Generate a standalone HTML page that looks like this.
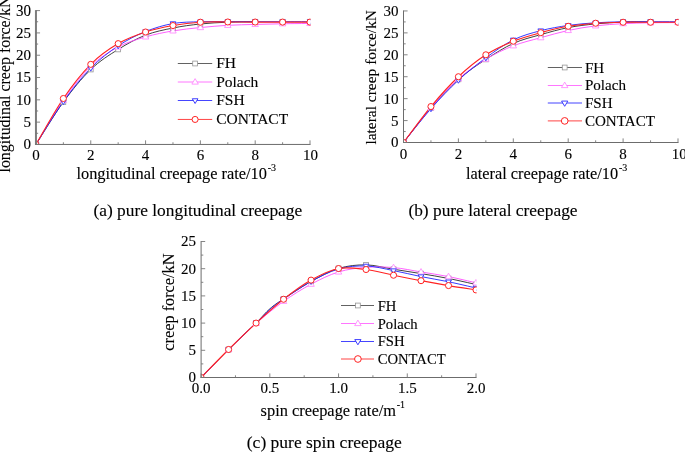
<!DOCTYPE html>
<html><head><meta charset="utf-8"><title>Creep force comparison</title>
<style>html,body{margin:0;padding:0;background:#fff}svg{display:block}text{font-family:"Liberation Serif",serif;fill:#000;stroke:#000;stroke-width:0.12px}</style>
</head><body>
<svg width="685" height="452" viewBox="0 0 685 452">
<rect width="685" height="452" fill="#fff"/>
<clipPath id="clipa"><rect x="35.95" y="0" width="274.65" height="144.45"/></clipPath>
<g clip-path="url(#clipa)" fill="none">
<path d="M35.95,144.45C40.52,137.39 54.22,114.56 63.36,102.06C72.49,89.57 81.62,78.27 90.76,69.49C99.90,60.72 109.03,55.14 118.17,49.42C127.30,43.69 136.44,38.71 145.57,35.14C154.70,31.57 163.84,29.86 172.98,28.00C182.11,26.14 191.25,24.95 200.38,23.98C209.51,23.02 218.65,22.57 227.79,22.20C236.92,21.83 250.62,21.83 255.19,21.75" stroke="#2a2a2a" stroke-width="0.9"/>
<path d="M35.95,144.45C40.52,137.09 54.22,113.29 63.36,100.28C72.49,87.27 81.62,75.26 90.76,66.37C99.90,57.48 109.03,51.87 118.17,46.96C127.30,42.05 136.44,39.60 145.57,36.92C154.70,34.25 163.84,32.46 172.98,30.90C182.11,29.34 191.25,28.48 200.38,27.55C209.51,26.62 218.65,25.84 227.79,25.32C236.92,24.80 246.06,24.69 255.19,24.43C264.32,24.17 273.46,23.92 282.60,23.76C291.73,23.60 305.43,23.50 310.00,23.45" stroke="#ff4dff" stroke-width="0.9"/>
<path d="M35.95,144.45C40.52,137.31 54.22,114.33 63.36,101.62C72.49,88.90 81.62,77.45 90.76,68.15C99.90,58.86 109.03,51.94 118.17,45.85C127.30,39.75 136.44,35.29 145.57,31.57C154.70,27.85 163.84,25.17 172.98,23.54C182.11,21.90 191.25,22.07 200.38,21.75C209.51,21.44 218.65,21.68 227.79,21.66C236.92,21.65 246.06,21.66 255.19,21.66C264.32,21.66 273.46,21.66 282.60,21.66C291.73,21.66 305.43,21.66 310.00,21.66" stroke="#2222ff" stroke-width="0.9"/>
<path d="M35.95,144.45C40.52,136.79 54.22,111.84 63.36,98.49C72.49,85.15 81.62,73.51 90.76,64.36C99.90,55.22 109.03,49.01 118.17,43.62C127.30,38.22 136.44,35.03 145.57,32.02C154.70,29.00 163.84,27.18 172.98,25.55C182.11,23.91 191.25,22.79 200.38,22.20C209.51,21.60 218.65,22.00 227.79,21.98C236.92,21.95 246.06,22.04 255.19,22.07C264.32,22.09 273.46,22.10 282.60,22.11C291.73,22.12 305.43,22.11 310.00,22.11" stroke="#ff2222" stroke-width="1.15"/>
<rect x="33.55" y="142.05" width="4.80" height="4.80" fill="#fff" stroke="#969696" stroke-width="0.8"/>
<rect x="60.96" y="99.66" width="4.80" height="4.80" fill="#fff" stroke="#969696" stroke-width="0.8"/>
<rect x="88.36" y="67.09" width="4.80" height="4.80" fill="#fff" stroke="#969696" stroke-width="0.8"/>
<rect x="115.77" y="47.02" width="4.80" height="4.80" fill="#fff" stroke="#969696" stroke-width="0.8"/>
<rect x="143.17" y="32.74" width="4.80" height="4.80" fill="#fff" stroke="#969696" stroke-width="0.8"/>
<rect x="170.58" y="25.60" width="4.80" height="4.80" fill="#fff" stroke="#969696" stroke-width="0.8"/>
<rect x="197.98" y="21.58" width="4.80" height="4.80" fill="#fff" stroke="#969696" stroke-width="0.8"/>
<rect x="225.39" y="19.80" width="4.80" height="4.80" fill="#fff" stroke="#969696" stroke-width="0.8"/>
<rect x="252.79" y="19.35" width="4.80" height="4.80" fill="#fff" stroke="#969696" stroke-width="0.8"/>
<rect x="280.20" y="19.35" width="4.80" height="4.80" fill="#fff" stroke="#969696" stroke-width="0.8"/>
<rect x="307.60" y="19.35" width="4.80" height="4.80" fill="#fff" stroke="#969696" stroke-width="0.8"/>
<path d="M35.95,141.05L39.18,146.56L32.72,146.56Z" fill="#fff" stroke="#ff80ff" stroke-width="0.8"/>
<path d="M63.36,96.88L66.59,102.39L60.13,102.39Z" fill="#fff" stroke="#ff80ff" stroke-width="0.8"/>
<path d="M90.76,62.97L93.99,68.48L87.53,68.48Z" fill="#fff" stroke="#ff80ff" stroke-width="0.8"/>
<path d="M118.17,43.56L121.40,49.07L114.94,49.07Z" fill="#fff" stroke="#ff80ff" stroke-width="0.8"/>
<path d="M145.57,33.52L148.80,39.03L142.34,39.03Z" fill="#fff" stroke="#ff80ff" stroke-width="0.8"/>
<path d="M172.98,27.50L176.21,33.01L169.75,33.01Z" fill="#fff" stroke="#ff80ff" stroke-width="0.8"/>
<path d="M200.38,24.15L203.61,29.66L197.15,29.66Z" fill="#fff" stroke="#ff80ff" stroke-width="0.8"/>
<path d="M227.79,21.92L231.02,27.43L224.56,27.43Z" fill="#fff" stroke="#ff80ff" stroke-width="0.8"/>
<path d="M255.19,21.03L258.42,26.54L251.96,26.54Z" fill="#fff" stroke="#ff80ff" stroke-width="0.8"/>
<path d="M282.60,20.36L285.83,25.87L279.37,25.87Z" fill="#fff" stroke="#ff80ff" stroke-width="0.8"/>
<path d="M310.00,20.05L313.23,25.56L306.77,25.56Z" fill="#fff" stroke="#ff80ff" stroke-width="0.8"/>
<path d="M35.95,147.45L38.80,142.71L33.10,142.71Z" fill="#fff" stroke="#3535ff" stroke-width="0.95"/>
<path d="M63.36,104.62L66.20,99.88L60.51,99.88Z" fill="#fff" stroke="#3535ff" stroke-width="0.95"/>
<path d="M90.76,71.15L93.61,66.41L87.91,66.41Z" fill="#fff" stroke="#3535ff" stroke-width="0.95"/>
<path d="M118.17,48.85L121.02,44.11L115.32,44.11Z" fill="#fff" stroke="#3535ff" stroke-width="0.95"/>
<path d="M145.57,34.57L148.42,29.83L142.72,29.83Z" fill="#fff" stroke="#3535ff" stroke-width="0.95"/>
<path d="M172.98,26.54L175.83,21.80L170.13,21.80Z" fill="#fff" stroke="#3535ff" stroke-width="0.95"/>
<path d="M200.38,24.75L203.23,20.01L197.53,20.01Z" fill="#fff" stroke="#3535ff" stroke-width="0.95"/>
<path d="M227.79,24.66L230.64,19.92L224.94,19.92Z" fill="#fff" stroke="#3535ff" stroke-width="0.95"/>
<path d="M255.19,24.66L258.04,19.92L252.34,19.92Z" fill="#fff" stroke="#3535ff" stroke-width="0.95"/>
<path d="M282.60,24.66L285.45,19.92L279.75,19.92Z" fill="#fff" stroke="#3535ff" stroke-width="0.95"/>
<path d="M310.00,24.66L312.85,19.92L307.15,19.92Z" fill="#fff" stroke="#3535ff" stroke-width="0.95"/>
<circle cx="35.95" cy="144.45" r="3.05" fill="#fff" stroke="#ff2222" stroke-width="1.0"/>
<circle cx="63.36" cy="98.49" r="3.05" fill="#fff" stroke="#ff2222" stroke-width="1.0"/>
<circle cx="90.76" cy="64.36" r="3.05" fill="#fff" stroke="#ff2222" stroke-width="1.0"/>
<circle cx="118.17" cy="43.62" r="3.05" fill="#fff" stroke="#ff2222" stroke-width="1.0"/>
<circle cx="145.57" cy="32.02" r="3.05" fill="#fff" stroke="#ff2222" stroke-width="1.0"/>
<circle cx="172.98" cy="25.55" r="3.05" fill="#fff" stroke="#ff2222" stroke-width="1.0"/>
<circle cx="200.38" cy="22.20" r="3.05" fill="#fff" stroke="#ff2222" stroke-width="1.0"/>
<circle cx="227.79" cy="21.98" r="3.05" fill="#fff" stroke="#ff2222" stroke-width="1.0"/>
<circle cx="255.19" cy="22.07" r="3.05" fill="#fff" stroke="#ff2222" stroke-width="1.0"/>
<circle cx="282.60" cy="22.11" r="3.05" fill="#fff" stroke="#ff2222" stroke-width="1.0"/>
<circle cx="310.00" cy="22.11" r="3.05" fill="#fff" stroke="#ff2222" stroke-width="1.0"/>
</g>
<path d="M35.95,10.10V144.95" stroke="#7c7c7c" stroke-width="2" fill="none"/>
<path d="M35.45,144.45H310.50" stroke="#6c6c6c" stroke-width="1" fill="none"/>
<path d="M35.95,144.45h4.1M35.95,122.14h4.1M35.95,99.83h4.1M35.95,77.52h4.1M35.95,55.22h4.1M35.95,32.91h4.1M35.95,10.60h4.1M35.95,133.30h2.2M35.95,110.99h2.2M35.95,88.68h2.2M35.95,66.37h2.2M35.95,44.06h2.2M35.95,21.75h2.2M35.95,144.45v-4.1M90.76,144.45v-4.1M145.57,144.45v-4.1M200.38,144.45v-4.1M255.19,144.45v-4.1M310.00,144.45v-4.1M63.36,144.45v-2.2M118.17,144.45v-2.2M172.98,144.45v-2.2M227.79,144.45v-2.2M282.60,144.45v-2.2" stroke="#777" stroke-width="0.9" fill="none"/>
<text x="30.95" y="149.40" font-size="15" text-anchor="end">0</text>
<text x="30.95" y="127.09" font-size="15" text-anchor="end">5</text>
<text x="30.95" y="104.78" font-size="15" text-anchor="end">10</text>
<text x="30.95" y="82.47" font-size="15" text-anchor="end">15</text>
<text x="30.95" y="60.17" font-size="15" text-anchor="end">20</text>
<text x="30.95" y="37.86" font-size="15" text-anchor="end">25</text>
<text transform="translate(30.95,15.55) scale(1,1.13)" font-size="15" text-anchor="end">30</text>
<text x="35.95" y="160.00" font-size="15" text-anchor="middle">0</text>
<text x="90.76" y="160.00" font-size="15" text-anchor="middle">2</text>
<text x="145.57" y="160.00" font-size="15" text-anchor="middle">4</text>
<text x="200.38" y="160.00" font-size="15" text-anchor="middle">6</text>
<text x="255.19" y="160.00" font-size="15" text-anchor="middle">8</text>
<text x="310.40" y="160.00" font-size="15" text-anchor="middle">10</text>
<text x="76.50" y="179.00" font-size="16.33">longitudinal creepage rate/10<tspan font-size="9.96" dx="0.8" dy="-8.2">-3</tspan></text>
<text transform="translate(9.90,-3.60) rotate(-90)" font-size="15.95" text-anchor="end">longitudinal creep force/kN</text>
<path d="M177.80,63.50H212.20" stroke="#505050" stroke-width="0.9"/>
<rect x="192.70" y="61.10" width="4.80" height="4.80" fill="#fff" stroke="#969696" stroke-width="0.8"/>
<text x="216.20" y="68.21" font-size="15.5">FH</text>
<path d="M177.80,82.00H212.20" stroke="#ff66ff" stroke-width="0.9"/>
<path d="M195.10,78.60L198.33,84.11L191.87,84.11Z" fill="#fff" stroke="#ff80ff" stroke-width="0.8"/>
<text x="216.20" y="86.71" font-size="15.5">Polach</text>
<path d="M177.80,100.50H212.20" stroke="#3030ff" stroke-width="0.9"/>
<path d="M195.10,103.50L197.95,98.76L192.25,98.76Z" fill="#fff" stroke="#3535ff" stroke-width="0.95"/>
<text x="216.20" y="105.21" font-size="15.5">FSH</text>
<path d="M177.80,119.45H212.20" stroke="#ff3030" stroke-width="0.9"/>
<circle cx="195.10" cy="119.45" r="3.05" fill="#fff" stroke="#ff2222" stroke-width="1.0"/>
<text x="216.20" y="124.16" font-size="15.5">CONTACT</text>
<clipPath id="clipb"><rect x="403.50" y="0" width="275.10" height="142.50"/></clipPath>
<g clip-path="url(#clipb)" fill="none">
<path d="M403.50,142.50C408.07,136.73 421.80,118.38 430.95,107.86C440.10,97.33 449.25,87.43 458.40,79.36C467.55,71.28 476.70,65.40 485.85,59.40C495.00,53.41 504.15,47.53 513.30,43.40C522.45,39.27 531.60,37.26 540.75,34.63C549.90,32.00 559.05,29.40 568.20,27.61C577.35,25.82 586.50,24.80 595.65,23.89C604.80,22.97 613.95,22.46 623.10,22.13C632.25,21.80 645.97,21.95 650.55,21.91" stroke="#2a2a2a" stroke-width="0.9"/>
<path d="M403.50,142.50C408.07,136.73 421.80,118.46 430.95,107.86C440.10,97.26 449.25,87.03 458.40,78.92C467.55,70.81 476.70,64.70 485.85,59.19C495.00,53.67 504.15,49.39 513.30,45.81C522.45,42.23 531.60,40.26 540.75,37.70C549.90,35.14 559.05,32.44 568.20,30.46C577.35,28.49 586.50,26.99 595.65,25.86C604.80,24.73 613.95,24.18 623.10,23.67C632.25,23.15 641.40,22.97 650.55,22.79C659.70,22.61 673.42,22.61 678.00,22.57" stroke="#ff4dff" stroke-width="0.9"/>
<path d="M403.50,142.50C408.07,136.87 421.80,119.11 430.95,108.74C440.10,98.36 449.25,88.71 458.40,80.23C467.55,71.76 476.70,64.59 485.85,57.87C495.00,51.15 504.15,44.42 513.30,39.89C522.45,35.36 531.60,33.09 540.75,30.68C549.90,28.27 559.05,26.74 568.20,25.42C577.35,24.11 586.50,23.40 595.65,22.79C604.80,22.18 613.95,21.96 623.10,21.78C632.25,21.60 641.40,21.71 650.55,21.69C659.70,21.68 673.42,21.69 678.00,21.69" stroke="#2222ff" stroke-width="0.9"/>
<path d="M403.50,142.50C408.07,136.51 421.80,117.51 430.95,106.54C440.10,95.58 449.25,85.35 458.40,76.73C467.55,68.10 476.70,60.72 485.85,54.80C495.00,48.88 504.15,44.90 513.30,41.21C522.45,37.52 531.60,35.14 540.75,32.66C549.90,30.17 559.05,27.87 568.20,26.30C577.35,24.73 586.50,23.90 595.65,23.23C604.80,22.56 613.95,22.42 623.10,22.26C632.25,22.10 641.40,22.26 650.55,22.26C659.70,22.26 673.42,22.26 678.00,22.26" stroke="#ff2222" stroke-width="1.15"/>
<rect x="401.10" y="140.10" width="4.80" height="4.80" fill="#fff" stroke="#969696" stroke-width="0.8"/>
<rect x="428.55" y="105.46" width="4.80" height="4.80" fill="#fff" stroke="#969696" stroke-width="0.8"/>
<rect x="456.00" y="76.96" width="4.80" height="4.80" fill="#fff" stroke="#969696" stroke-width="0.8"/>
<rect x="483.45" y="57.00" width="4.80" height="4.80" fill="#fff" stroke="#969696" stroke-width="0.8"/>
<rect x="510.90" y="41.00" width="4.80" height="4.80" fill="#fff" stroke="#969696" stroke-width="0.8"/>
<rect x="538.35" y="32.23" width="4.80" height="4.80" fill="#fff" stroke="#969696" stroke-width="0.8"/>
<rect x="565.80" y="25.21" width="4.80" height="4.80" fill="#fff" stroke="#969696" stroke-width="0.8"/>
<rect x="593.25" y="21.49" width="4.80" height="4.80" fill="#fff" stroke="#969696" stroke-width="0.8"/>
<rect x="620.70" y="19.73" width="4.80" height="4.80" fill="#fff" stroke="#969696" stroke-width="0.8"/>
<rect x="648.15" y="19.51" width="4.80" height="4.80" fill="#fff" stroke="#969696" stroke-width="0.8"/>
<rect x="675.60" y="19.51" width="4.80" height="4.80" fill="#fff" stroke="#969696" stroke-width="0.8"/>
<path d="M403.50,139.10L406.73,144.61L400.27,144.61Z" fill="#fff" stroke="#ff80ff" stroke-width="0.8"/>
<path d="M430.95,104.46L434.18,109.97L427.72,109.97Z" fill="#fff" stroke="#ff80ff" stroke-width="0.8"/>
<path d="M458.40,75.52L461.63,81.03L455.17,81.03Z" fill="#fff" stroke="#ff80ff" stroke-width="0.8"/>
<path d="M485.85,55.79L489.08,61.29L482.62,61.29Z" fill="#fff" stroke="#ff80ff" stroke-width="0.8"/>
<path d="M513.30,42.41L516.53,47.92L510.07,47.92Z" fill="#fff" stroke="#ff80ff" stroke-width="0.8"/>
<path d="M540.75,34.30L543.98,39.81L537.52,39.81Z" fill="#fff" stroke="#ff80ff" stroke-width="0.8"/>
<path d="M568.20,27.06L571.43,32.57L564.97,32.57Z" fill="#fff" stroke="#ff80ff" stroke-width="0.8"/>
<path d="M595.65,22.46L598.88,27.97L592.42,27.97Z" fill="#fff" stroke="#ff80ff" stroke-width="0.8"/>
<path d="M623.10,20.27L626.33,25.77L619.87,25.77Z" fill="#fff" stroke="#ff80ff" stroke-width="0.8"/>
<path d="M650.55,19.39L653.78,24.90L647.32,24.90Z" fill="#fff" stroke="#ff80ff" stroke-width="0.8"/>
<path d="M678.00,19.17L681.23,24.68L674.77,24.68Z" fill="#fff" stroke="#ff80ff" stroke-width="0.8"/>
<path d="M403.50,145.50L406.35,140.76L400.65,140.76Z" fill="#fff" stroke="#3535ff" stroke-width="0.95"/>
<path d="M430.95,111.74L433.80,107.00L428.10,107.00Z" fill="#fff" stroke="#3535ff" stroke-width="0.95"/>
<path d="M458.40,83.23L461.25,78.49L455.55,78.49Z" fill="#fff" stroke="#3535ff" stroke-width="0.95"/>
<path d="M485.85,60.87L488.70,56.13L483.00,56.13Z" fill="#fff" stroke="#3535ff" stroke-width="0.95"/>
<path d="M513.30,42.89L516.15,38.15L510.45,38.15Z" fill="#fff" stroke="#3535ff" stroke-width="0.95"/>
<path d="M540.75,33.68L543.60,28.94L537.90,28.94Z" fill="#fff" stroke="#3535ff" stroke-width="0.95"/>
<path d="M568.20,28.42L571.05,23.68L565.35,23.68Z" fill="#fff" stroke="#3535ff" stroke-width="0.95"/>
<path d="M595.65,25.79L598.50,21.05L592.80,21.05Z" fill="#fff" stroke="#3535ff" stroke-width="0.95"/>
<path d="M623.10,24.78L625.95,20.04L620.25,20.04Z" fill="#fff" stroke="#3535ff" stroke-width="0.95"/>
<path d="M650.55,24.69L653.40,19.95L647.70,19.95Z" fill="#fff" stroke="#3535ff" stroke-width="0.95"/>
<path d="M678.00,24.69L680.85,19.95L675.15,19.95Z" fill="#fff" stroke="#3535ff" stroke-width="0.95"/>
<circle cx="403.50" cy="142.50" r="3.05" fill="#fff" stroke="#ff2222" stroke-width="1.0"/>
<circle cx="430.95" cy="106.54" r="3.05" fill="#fff" stroke="#ff2222" stroke-width="1.0"/>
<circle cx="458.40" cy="76.73" r="3.05" fill="#fff" stroke="#ff2222" stroke-width="1.0"/>
<circle cx="485.85" cy="54.80" r="3.05" fill="#fff" stroke="#ff2222" stroke-width="1.0"/>
<circle cx="513.30" cy="41.21" r="3.05" fill="#fff" stroke="#ff2222" stroke-width="1.0"/>
<circle cx="540.75" cy="32.66" r="3.05" fill="#fff" stroke="#ff2222" stroke-width="1.0"/>
<circle cx="568.20" cy="26.30" r="3.05" fill="#fff" stroke="#ff2222" stroke-width="1.0"/>
<circle cx="595.65" cy="23.23" r="3.05" fill="#fff" stroke="#ff2222" stroke-width="1.0"/>
<circle cx="623.10" cy="22.26" r="3.05" fill="#fff" stroke="#ff2222" stroke-width="1.0"/>
<circle cx="650.55" cy="22.26" r="3.05" fill="#fff" stroke="#ff2222" stroke-width="1.0"/>
<circle cx="678.00" cy="22.26" r="3.05" fill="#fff" stroke="#ff2222" stroke-width="1.0"/>
</g>
<path d="M403.50,10.45V143.00" stroke="#6c6c6c" stroke-width="1" fill="none"/>
<path d="M403.00,142.50H678.50" stroke="#6c6c6c" stroke-width="1" fill="none"/>
<path d="M403.50,142.50h4.1M403.50,120.58h4.1M403.50,98.65h4.1M403.50,76.73h4.1M403.50,54.80h4.1M403.50,32.88h4.1M403.50,10.95h4.1M403.50,131.54h2.2M403.50,109.61h2.2M403.50,87.69h2.2M403.50,65.76h2.2M403.50,43.84h2.2M403.50,21.91h2.2M403.50,142.50v-4.1M458.40,142.50v-4.1M513.30,142.50v-4.1M568.20,142.50v-4.1M623.10,142.50v-4.1M678.00,142.50v-4.1M430.95,142.50v-2.2M485.85,142.50v-2.2M540.75,142.50v-2.2M595.65,142.50v-2.2M650.55,142.50v-2.2" stroke="#777" stroke-width="0.9" fill="none"/>
<text x="398.50" y="147.45" font-size="15" text-anchor="end">0</text>
<text x="398.50" y="125.53" font-size="15" text-anchor="end">5</text>
<text x="398.50" y="103.60" font-size="15" text-anchor="end">10</text>
<text x="398.50" y="81.68" font-size="15" text-anchor="end">15</text>
<text x="398.50" y="59.75" font-size="15" text-anchor="end">20</text>
<text x="398.50" y="37.83" font-size="15" text-anchor="end">25</text>
<text x="398.50" y="15.90" font-size="15" text-anchor="end">30</text>
<text x="403.50" y="158.60" font-size="15" text-anchor="middle">0</text>
<text x="458.40" y="158.60" font-size="15" text-anchor="middle">2</text>
<text x="513.30" y="158.60" font-size="15" text-anchor="middle">4</text>
<text x="568.20" y="158.60" font-size="15" text-anchor="middle">6</text>
<text x="623.10" y="158.60" font-size="15" text-anchor="middle">8</text>
<text x="679.30" y="158.60" font-size="15" text-anchor="middle">10</text>
<text x="466.00" y="178.60" font-size="16.32">lateral creepage rate/10<tspan font-size="9.96" dx="0.8" dy="-7.3">-3</tspan></text>
<text transform="translate(375.50,10.00) rotate(-90)" font-size="15.45" text-anchor="end">lateral creep force/kN</text>
<path d="M547.80,67.50H582.00" stroke="#505050" stroke-width="0.9"/>
<rect x="562.30" y="65.10" width="4.80" height="4.80" fill="#fff" stroke="#969696" stroke-width="0.8"/>
<text x="584.90" y="72.88" font-size="15.1">FH</text>
<path d="M547.80,85.50H582.00" stroke="#ff66ff" stroke-width="0.9"/>
<path d="M564.70,82.10L567.93,87.61L561.47,87.61Z" fill="#fff" stroke="#ff80ff" stroke-width="0.8"/>
<text x="584.90" y="90.48" font-size="15.1">Polach</text>
<path d="M547.80,103.00H582.00" stroke="#3030ff" stroke-width="0.9"/>
<path d="M564.70,106.30L567.84,101.09L561.57,101.09Z" fill="#fff" stroke="#3535ff" stroke-width="0.95"/>
<text x="584.90" y="108.18" font-size="15.1">FSH</text>
<path d="M547.80,120.90H582.00" stroke="#ff3030" stroke-width="0.9"/>
<circle cx="564.70" cy="120.90" r="3.35" fill="#fff" stroke="#ff2222" stroke-width="1.0"/>
<text x="584.90" y="125.98" font-size="15.1">CONTACT</text>
<clipPath id="clipc"><rect x="201.10" y="0" width="275.50" height="377.50"/></clipPath>
<g clip-path="url(#clipc)" fill="none">
<path d="M201.10,377.50C205.68,372.83 219.43,358.59 228.59,349.48C237.75,340.38 249.21,329.66 256.08,322.88C262.95,316.11 265.24,312.85 269.82,308.85C274.41,304.85 276.70,303.45 283.57,298.89C290.44,294.33 301.90,286.56 311.06,281.48C320.22,276.41 329.39,271.19 338.55,268.43C347.71,265.66 356.88,264.76 366.04,264.89C375.20,265.03 384.37,267.79 393.53,269.24C402.69,270.69 411.86,272.05 421.02,273.60C430.18,275.14 439.35,276.68 448.51,278.49C457.67,280.31 471.42,283.48 476.00,284.48" stroke="#2a2a2a" stroke-width="0.9"/>
<path d="M201.10,377.50C205.68,372.85 219.43,358.61 228.59,349.59C237.75,340.57 246.92,331.41 256.08,323.37C265.24,315.33 274.41,307.87 283.57,301.34C292.73,294.81 301.90,289.10 311.06,284.20C320.22,279.31 329.39,274.77 338.55,271.96C347.71,269.15 356.88,268.07 366.04,267.34C375.20,266.61 384.37,266.84 393.53,267.61C402.69,268.38 411.86,270.47 421.02,271.96C430.18,273.46 439.35,274.77 448.51,276.59C457.67,278.40 471.42,281.80 476.00,282.84" stroke="#ff4dff" stroke-width="0.9"/>
<path d="M201.10,377.50C205.68,372.83 219.43,358.57 228.59,349.48C237.75,340.40 249.21,329.67 256.08,322.99C262.95,316.31 265.24,313.38 269.82,309.39C274.41,305.40 276.70,303.71 283.57,299.06C290.44,294.40 301.90,286.50 311.06,281.48C320.22,276.47 329.39,271.56 338.55,268.97C347.71,266.39 356.88,265.71 366.04,265.98C375.20,266.25 384.37,268.84 393.53,270.60C402.69,272.37 411.86,274.73 421.02,276.59C430.18,278.45 439.35,279.85 448.51,281.76C457.67,283.66 471.42,286.97 476.00,288.01" stroke="#2222ff" stroke-width="0.9"/>
<path d="M201.10,377.50C205.68,372.83 219.43,358.55 228.59,349.48C237.75,340.42 246.92,331.47 256.08,323.10C265.24,314.73 274.41,306.44 283.57,299.27C292.73,292.11 301.90,285.25 311.06,280.12C320.22,275.00 329.39,270.30 338.55,268.54C347.71,266.77 356.88,268.40 366.04,269.52C375.20,270.63 384.37,273.37 393.53,275.23C402.69,277.09 411.86,278.95 421.02,280.67C430.18,282.39 439.35,284.02 448.51,285.56C457.67,287.11 471.42,289.19 476.00,289.92" stroke="#ff2222" stroke-width="1.15"/>
<rect x="198.70" y="375.10" width="4.80" height="4.80" fill="#fff" stroke="#969696" stroke-width="0.8"/>
<rect x="226.19" y="347.08" width="4.80" height="4.80" fill="#fff" stroke="#969696" stroke-width="0.8"/>
<rect x="253.68" y="320.48" width="4.80" height="4.80" fill="#fff" stroke="#969696" stroke-width="0.8"/>
<rect x="281.17" y="296.49" width="4.80" height="4.80" fill="#fff" stroke="#969696" stroke-width="0.8"/>
<rect x="308.66" y="279.08" width="4.80" height="4.80" fill="#fff" stroke="#969696" stroke-width="0.8"/>
<rect x="336.15" y="266.03" width="4.80" height="4.80" fill="#fff" stroke="#969696" stroke-width="0.8"/>
<rect x="363.64" y="262.49" width="4.80" height="4.80" fill="#fff" stroke="#969696" stroke-width="0.8"/>
<rect x="391.13" y="266.84" width="4.80" height="4.80" fill="#fff" stroke="#969696" stroke-width="0.8"/>
<rect x="418.62" y="271.20" width="4.80" height="4.80" fill="#fff" stroke="#969696" stroke-width="0.8"/>
<rect x="446.11" y="276.09" width="4.80" height="4.80" fill="#fff" stroke="#969696" stroke-width="0.8"/>
<rect x="473.60" y="282.08" width="4.80" height="4.80" fill="#fff" stroke="#969696" stroke-width="0.8"/>
<path d="M201.10,374.10L204.33,379.61L197.87,379.61Z" fill="#fff" stroke="#ff80ff" stroke-width="0.8"/>
<path d="M228.59,346.19L231.82,351.70L225.36,351.70Z" fill="#fff" stroke="#ff80ff" stroke-width="0.8"/>
<path d="M256.08,319.97L259.31,325.48L252.85,325.48Z" fill="#fff" stroke="#ff80ff" stroke-width="0.8"/>
<path d="M283.57,297.94L286.80,303.45L280.34,303.45Z" fill="#fff" stroke="#ff80ff" stroke-width="0.8"/>
<path d="M311.06,280.80L314.29,286.31L307.83,286.31Z" fill="#fff" stroke="#ff80ff" stroke-width="0.8"/>
<path d="M338.55,268.56L341.78,274.07L335.32,274.07Z" fill="#fff" stroke="#ff80ff" stroke-width="0.8"/>
<path d="M366.04,263.94L369.27,269.45L362.81,269.45Z" fill="#fff" stroke="#ff80ff" stroke-width="0.8"/>
<path d="M393.53,264.21L396.76,269.72L390.30,269.72Z" fill="#fff" stroke="#ff80ff" stroke-width="0.8"/>
<path d="M421.02,268.56L424.25,274.07L417.79,274.07Z" fill="#fff" stroke="#ff80ff" stroke-width="0.8"/>
<path d="M448.51,273.19L451.74,278.70L445.28,278.70Z" fill="#fff" stroke="#ff80ff" stroke-width="0.8"/>
<path d="M476.00,279.44L479.23,284.95L472.77,284.95Z" fill="#fff" stroke="#ff80ff" stroke-width="0.8"/>
<path d="M201.10,380.50L203.95,375.76L198.25,375.76Z" fill="#fff" stroke="#3535ff" stroke-width="0.95"/>
<path d="M228.59,352.48L231.44,347.74L225.74,347.74Z" fill="#fff" stroke="#3535ff" stroke-width="0.95"/>
<path d="M256.08,325.99L258.93,321.25L253.23,321.25Z" fill="#fff" stroke="#3535ff" stroke-width="0.95"/>
<path d="M283.57,302.06L286.42,297.32L280.72,297.32Z" fill="#fff" stroke="#3535ff" stroke-width="0.95"/>
<path d="M311.06,284.48L313.91,279.74L308.21,279.74Z" fill="#fff" stroke="#3535ff" stroke-width="0.95"/>
<path d="M338.55,271.97L341.40,267.23L335.70,267.23Z" fill="#fff" stroke="#3535ff" stroke-width="0.95"/>
<path d="M366.04,268.98L368.89,264.24L363.19,264.24Z" fill="#fff" stroke="#3535ff" stroke-width="0.95"/>
<path d="M393.53,273.60L396.38,268.86L390.68,268.86Z" fill="#fff" stroke="#3535ff" stroke-width="0.95"/>
<path d="M421.02,279.59L423.87,274.85L418.17,274.85Z" fill="#fff" stroke="#3535ff" stroke-width="0.95"/>
<path d="M448.51,284.76L451.36,280.02L445.66,280.02Z" fill="#fff" stroke="#3535ff" stroke-width="0.95"/>
<path d="M476.00,291.01L478.85,286.27L473.15,286.27Z" fill="#fff" stroke="#3535ff" stroke-width="0.95"/>
<circle cx="201.10" cy="377.50" r="3.05" fill="#fff" stroke="#ff2222" stroke-width="1.0"/>
<circle cx="228.59" cy="349.48" r="3.05" fill="#fff" stroke="#ff2222" stroke-width="1.0"/>
<circle cx="256.08" cy="323.10" r="3.05" fill="#fff" stroke="#ff2222" stroke-width="1.0"/>
<circle cx="283.57" cy="299.27" r="3.05" fill="#fff" stroke="#ff2222" stroke-width="1.0"/>
<circle cx="311.06" cy="280.12" r="3.05" fill="#fff" stroke="#ff2222" stroke-width="1.0"/>
<circle cx="338.55" cy="268.54" r="3.05" fill="#fff" stroke="#ff2222" stroke-width="1.0"/>
<circle cx="366.04" cy="269.52" r="3.05" fill="#fff" stroke="#ff2222" stroke-width="1.0"/>
<circle cx="393.53" cy="275.23" r="3.05" fill="#fff" stroke="#ff2222" stroke-width="1.0"/>
<circle cx="421.02" cy="280.67" r="3.05" fill="#fff" stroke="#ff2222" stroke-width="1.0"/>
<circle cx="448.51" cy="285.56" r="3.05" fill="#fff" stroke="#ff2222" stroke-width="1.0"/>
<circle cx="476.00" cy="289.92" r="3.05" fill="#fff" stroke="#ff2222" stroke-width="1.0"/>
</g>
<path d="M201.10,241.00V378.00" stroke="#6c6c6c" stroke-width="1" fill="none"/>
<path d="M200.60,377.50H476.50" stroke="#6c6c6c" stroke-width="1" fill="none"/>
<path d="M201.10,377.50h4.1M201.10,350.30h4.1M201.10,323.10h4.1M201.10,295.90h4.1M201.10,268.70h4.1M201.10,241.50h4.1M201.10,363.90h2.2M201.10,336.70h2.2M201.10,309.50h2.2M201.10,282.30h2.2M201.10,255.10h2.2M201.10,377.50v-4.1M269.82,377.50v-4.1M338.55,377.50v-4.1M407.27,377.50v-4.1M476.00,377.50v-4.1M235.46,377.50v-2.2M304.19,377.50v-2.2M372.91,377.50v-2.2M441.64,377.50v-2.2" stroke="#777" stroke-width="0.9" fill="none"/>
<text x="196.10" y="382.45" font-size="15" text-anchor="end">0</text>
<text x="196.10" y="355.25" font-size="15" text-anchor="end">5</text>
<text x="196.10" y="328.05" font-size="15" text-anchor="end">10</text>
<text x="196.10" y="300.85" font-size="15" text-anchor="end">15</text>
<text x="196.10" y="273.65" font-size="15" text-anchor="end">20</text>
<text x="196.10" y="246.45" font-size="15" text-anchor="end">25</text>
<text x="201.10" y="393.40" font-size="15" text-anchor="middle">0.0</text>
<text x="269.82" y="393.40" font-size="15" text-anchor="middle">0.5</text>
<text x="338.55" y="393.40" font-size="15" text-anchor="middle">1.0</text>
<text x="407.27" y="393.40" font-size="15" text-anchor="middle">1.5</text>
<text x="476.00" y="393.40" font-size="15" text-anchor="middle">2.0</text>
<text x="260.60" y="415.80" font-size="16.36">spin creepage rate/m<tspan font-size="9.98" dx="0.8" dy="-8.2">-1</tspan></text>
<text transform="translate(173.50,253.50) rotate(-90)" font-size="16.3" text-anchor="end">creep force/kN</text>
<path d="M341.00,305.50H374.00" stroke="#505050" stroke-width="0.9"/>
<rect x="355.50" y="303.10" width="4.80" height="4.80" fill="#fff" stroke="#969696" stroke-width="0.8"/>
<text x="377.70" y="310.93" font-size="14.65">FH</text>
<path d="M341.00,323.50H374.00" stroke="#ff66ff" stroke-width="0.9"/>
<path d="M357.90,320.10L361.13,325.61L354.67,325.61Z" fill="#fff" stroke="#ff80ff" stroke-width="0.8"/>
<text x="377.70" y="328.53" font-size="14.65">Polach</text>
<path d="M341.00,341.50H374.00" stroke="#3030ff" stroke-width="0.9"/>
<path d="M357.90,344.80L361.03,339.59L354.76,339.59Z" fill="#fff" stroke="#3535ff" stroke-width="0.95"/>
<text x="377.70" y="346.23" font-size="14.65">FSH</text>
<path d="M341.00,359.00H374.00" stroke="#ff3030" stroke-width="0.9"/>
<circle cx="357.90" cy="359.00" r="3.35" fill="#fff" stroke="#ff2222" stroke-width="1.0"/>
<text x="377.70" y="364.03" font-size="14.65">CONTACT</text>
<text x="93.5" y="215.8" font-size="17.38">(a) pure longitudinal creepage</text>
<text x="408.4" y="215.5" font-size="17.37">(b) pure lateral creepage</text>
<text x="246.8" y="448.1" font-size="17.5">(c) pure spin creepage</text>
</svg>
</body></html>
